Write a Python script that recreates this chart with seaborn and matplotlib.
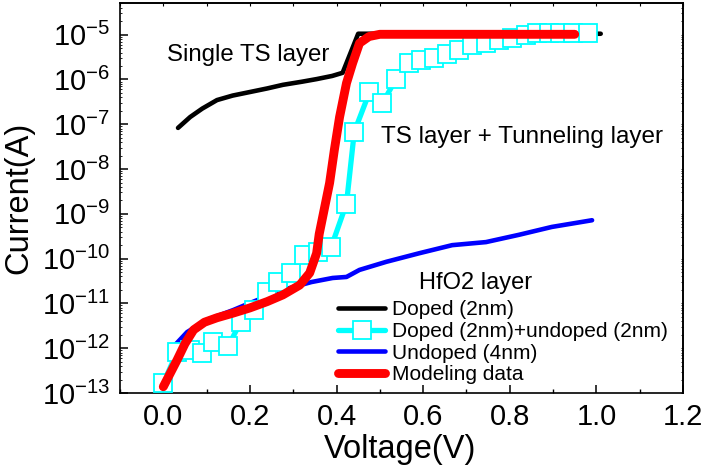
import matplotlib
matplotlib.use("Agg")
import matplotlib.pyplot as plt
import numpy as np
import pandas as pd
import seaborn as sns
from matplotlib.ticker import MultipleLocator, LogLocator, NullFormatter, FixedLocator, FormatStrFormatter

# ---- measured I-V curves ----
doped_v = [0.034, 0.062, 0.09, 0.124, 0.16, 0.2, 0.24, 0.276, 0.32, 0.354, 0.39, 0.414, 0.45, 1.01]
doped_i = [8.3e-8, 1.45e-7, 2.24e-7, 3.47e-7, 4.37e-7, 5.25e-7, 6.31e-7, 7.59e-7, 8.91e-7,
           1.02e-6, 1.20e-6, 1.41e-6, 1.05e-5, 1.05e-5]

stack_v = [0.0, 0.032, 0.062, 0.09, 0.115, 0.15, 0.179, 0.209, 0.239, 0.264, 0.296, 0.324,
           0.357, 0.388, 0.423, 0.441, 0.476, 0.506, 0.538, 0.568, 0.595, 0.625, 0.655,
           0.683, 0.713, 0.745, 0.775, 0.805, 0.837, 0.862, 0.89, 0.917, 0.947, 0.98]
stack_i = [1.66e-13, 8.3e-13, 9.1e-13, 7.8e-13, 1.38e-12, 1.12e-12, 3.9e-12, 7.1e-12, 1.78e-11,
           3.0e-11, 4.8e-11, 1.2e-10, 1.41e-10, 1.86e-10, 1.7e-9, 6.8e-8, 5.2e-7, 2.95e-7,
           1.05e-6, 2.3e-6, 2.7e-6, 2.95e-6, 3.8e-6, 4.6e-6, 5.9e-6, 6.5e-6, 7.6e-6, 8.3e-6,
           9.8e-6, 1.07e-5, 1.07e-5, 1.07e-5, 1.07e-5, 1.07e-5]

undoped_v = [0.021, 0.055, 0.1, 0.161, 0.2, 0.276, 0.342, 0.391, 0.423, 0.453, 0.515, 0.591,
             0.667, 0.745, 0.821, 0.897, 0.99]
undoped_i = [1.02e-12, 2.29e-12, 4.27e-12, 7.08e-12, 1.02e-11, 2.0e-11, 3.0e-11, 3.7e-11,
             3.9e-11, 5.6e-11, 8.5e-11, 1.32e-10, 2.0e-10, 2.34e-10, 3.4e-10, 5.1e-10, 7.2e-10]

model_v = [0.0, 0.032, 0.05, 0.07, 0.095, 0.124, 0.16, 0.2, 0.24, 0.276, 0.315, 0.338, 0.354,
           0.36, 0.384, 0.395, 0.407, 0.423, 0.437, 0.453, 0.475, 0.5, 0.95]
model_i = [1.38e-13, 5.5e-13, 1.26e-12, 2.57e-12, 3.8e-12, 4.79e-12, 6.03e-12, 7.94e-12,
           1.10e-11, 1.55e-11, 2.57e-11, 4.79e-11, 1.32e-10, 3.55e-10, 4.9e-9, 2.69e-8,
           1.45e-7, 8.3e-7, 2.29e-6, 6.46e-6, 9.1e-6, 1.02e-5, 1.02e-5]

labels = ["Doped (2nm)", "Doped (2nm)+undoped (2nm)", "Undoped (4nm)", "Modeling data"]
x_ticks = [0.0, 0.2, 0.4, 0.6, 0.8, 1.0, 1.2]

sns.set_style("ticks")
plt.rcParams["font.family"] = ["Liberation Sans", "DejaVu Sans"]
plt.rcParams["mathtext.fontset"] = "custom"
plt.rcParams["mathtext.rm"] = "Liberation Sans"
plt.rcParams["mathtext.it"] = "Liberation Sans:italic"
plt.rcParams["mathtext.bf"] = "Liberation Sans:bold"
for key in ("text.color", "axes.labelcolor", "xtick.color", "ytick.color", "axes.edgecolor"):
    plt.rcParams[key] = "black"

W, H = 712, 465
fig = plt.figure(figsize=(W / 100, H / 100), dpi=100)
fig.patch.set_facecolor("white")
ax = fig.add_axes([120 / W, 1 - 393 / H, 563 / W, 390 / H])
ax.set_facecolor("white")

def frame(v, i, name):
    return pd.DataFrame({"V": v, "I": i, "series": name})

sns.lineplot(data=frame(doped_v, doped_i, labels[0]), x="V", y="I", ax=ax,
             color="black", lw=3.3, label=labels[0], estimator=None, sort=False, zorder=2)
sns.lineplot(data=frame(stack_v, stack_i, labels[1]), x="V", y="I", ax=ax,
             color="#00FFFF", lw=3.8, marker="s", markersize=12.5, markerfacecolor="white",
             markeredgecolor="#00FFFF", markeredgewidth=1.3, label=labels[1],
             estimator=None, sort=False, zorder=3)
sns.lineplot(data=frame(undoped_v, undoped_i, labels[2]), x="V", y="I", ax=ax,
             color="#0000FF", lw=3.3, label=labels[2], estimator=None, sort=False, zorder=2.5)
sns.lineplot(data=frame(model_v, model_i, labels[3]), x="V", y="I", ax=ax,
             color="#FF0000", lw=6.4, label=labels[3], estimator=None, sort=False, zorder=4)

ax.set_yscale("log")
ax.set_xlim(-0.1, 1.2)
ax.set_ylim(1e-13, 5.1e-5)

ax.xaxis.set_major_locator(FixedLocator(x_ticks))
ax.xaxis.set_major_formatter(FormatStrFormatter("%.1f"))
ax.xaxis.set_minor_locator(MultipleLocator(0.1))
ax.yaxis.set_major_locator(LogLocator(base=10, numticks=20))
ax.yaxis.set_minor_locator(LogLocator(base=10, subs=np.arange(2, 10), numticks=20))
ax.yaxis.set_minor_formatter(NullFormatter())

ax.tick_params(axis="both", which="major", direction="in", length=6, width=1.1,
               labelsize=21, pad=7, colors="black")
ax.tick_params(axis="x", which="minor", direction="in", length=3.2, width=1.0)
ax.tick_params(axis="y", which="minor", direction="in", length=1.5, width=0.6)

for s in ax.spines.values():
    s.set_visible(True)
    s.set_linewidth(1.2)
    s.set_color("black")

# small ticks along the top and right frame
top = ax.secondary_xaxis("top")
top.xaxis.set_major_locator(MultipleLocator(0.1))
top.tick_params(direction="in", length=2.5, width=0.8, labeltop=False)
top.spines["top"].set_linewidth(1.2)
right = ax.secondary_yaxis("right")
right.yaxis.set_major_locator(LogLocator(base=10, subs=np.arange(1, 10), numticks=40))
right.yaxis.set_minor_locator(LogLocator(base=10, subs=np.arange(1, 10), numticks=40))
right.tick_params(which="both", direction="in", length=1.5, width=0.6, labelright=False)
right.spines["right"].set_linewidth(1.2)

ax.set_xlabel("Voltage(V)", fontsize=23.5)
ax.set_ylabel("Current(A)", fontsize=23.5)
ax.xaxis.set_label_coords(0.497, -0.105)
ax.yaxis.set_label_coords(-0.152, 0.5)

ax.text(0.009, 3.5e-6, "Single TS layer", fontsize=17.3, ha="left", va="center")
ax.text(0.503, 5.2e-8, "TS layer + Tunneling layer", fontsize=17.5, ha="left", va="center")

ax.text(476 / W, 1 - 283 / H, "HfO2 layer", fontsize=17, ha="center", va="center",
        transform=fig.transFigure)
leg = ax.legend(loc="upper left", bbox_to_anchor=(330 / W, 1 - 292 / H),
                bbox_transform=fig.transFigure, frameon=False, fontsize=15,
                handlelength=2.25, handletextpad=0.35, labelspacing=0.13,
                borderaxespad=0, borderpad=0.4)

fig.savefig("out.png", dpi=100, facecolor="white")
